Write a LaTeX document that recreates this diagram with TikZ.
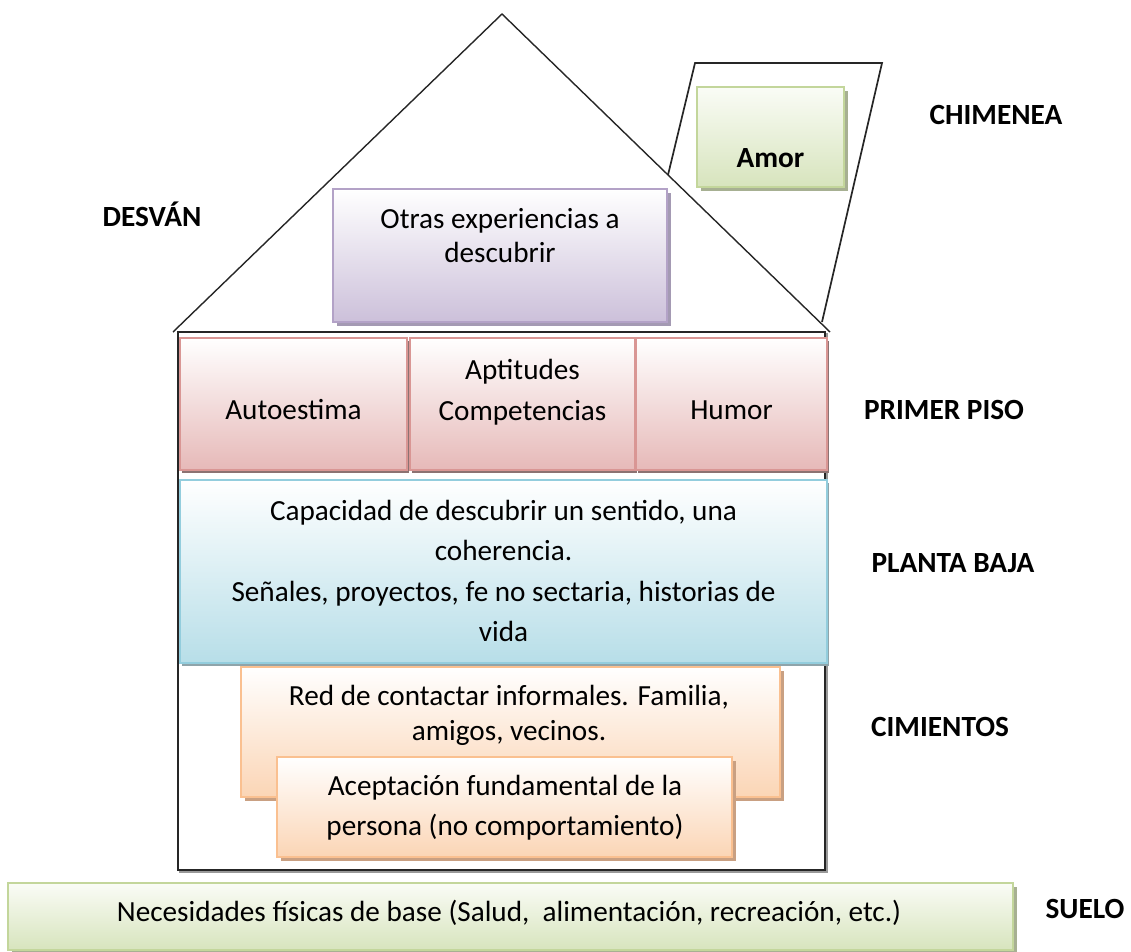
\documentclass[tikz,border=0pt]{standalone}
\usepackage{fontspec}
\setmainfont{Carlito}
\usetikzlibrary{shadows}
\definecolor{purB}{HTML}{B3A2C7}
\definecolor{purF}{HTML}{CCC0DA}
\definecolor{purS}{HTML}{A49AB3}
\definecolor{pinkB}{HTML}{D99694}
\definecolor{pinkF}{HTML}{E6B9B8}
\definecolor{pinkS}{HTML}{8C7272}
\definecolor{bluB}{HTML}{93CDDD}
\definecolor{bluF}{HTML}{B7DEE8}
\definecolor{bluS}{HTML}{8FA4AA}
\definecolor{oraB}{HTML}{FAC090}
\definecolor{oraF}{HTML}{FBD5B5}
\definecolor{oraS}{HTML}{C9A082}
\definecolor{grnB}{HTML}{C3D69B}
\definecolor{grnF}{HTML}{D7E4BD}
\definecolor{grnT}{HTML}{FAFCF6}
\definecolor{grnS}{HTML}{A7B092}
\newcommand{\stk}[2]{{\fontsize{29.2}{#1}\selectfont\begin{tabular}[t]{@{}c@{}}#2\end{tabular}}}
\begin{document}
\begin{tikzpicture}[x=1pt,y=-1pt,
  every node/.style={inner sep=0pt, outer sep=0pt},
  txt/.style={anchor=base, font=\fontsize{29.2}{34}\selectfont},
  lbl/.style={anchor=base, font=\fontsize{29.3}{34}\selectfont\bfseries},
  boxbase/.style={draw, rectangle, line width=2.2pt},
  purplebox/.style={boxbase, draw=purB, top color=white, bottom color=purF,
    drop shadow={shadow xshift=3.5pt, shadow yshift=-3.5pt, fill=purS, opacity=1}},
  pinkbox/.style={boxbase, draw=pinkB, top color=white, bottom color=pinkF,
    drop shadow={shadow xshift=2pt, shadow yshift=-3pt, fill=pinkS, opacity=1}},
  bluebox/.style={boxbase, draw=bluB, top color=white, bottom color=bluF,
    drop shadow={shadow xshift=2pt, shadow yshift=-3pt, fill=bluS, opacity=1}},
  orangebox/.style={boxbase, draw=oraB, top color=white, bottom color=oraF,
    drop shadow={shadow xshift=3.5pt, shadow yshift=-3.5pt, fill=oraS, opacity=1}},
  greenbox/.style={boxbase, draw=grnB, top color=grnT, bottom color=grnF,
    drop shadow={shadow xshift=3.5pt, shadow yshift=-3.5pt, fill=grnS, opacity=1}},
  blackline/.style={line width=1.6pt, draw=black!85}
]
\useasboundingbox (0,0) rectangle (1131,951);
% house outline
\coordinate (hTL) at (178,332);
\coordinate (hBR) at (825,870);
\coordinate (hTLs) at (180,334);
\coordinate (hBRs) at (827,872);
\draw[line width=1.5pt, black!40] (hTLs) rectangle (hBRs);
\draw[blackline, line width=1.8pt, fill=white] (hTL) rectangle (hBR);
% roof
\coordinate (roofL) at (173,332);
\coordinate (apex) at (502,14);
\coordinate (roofR) at (830,332);
\draw[blackline, line width=1.4pt] (roofL) -- (apex) -- (roofR);
% chimney
\coordinate (chA) at (668,175);
\coordinate (chB) at (695,63);
\coordinate (chC) at (882,63);
\coordinate (chD) at (822,322);
\draw[blackline, line width=1.7pt] (chA) -- (chB) -- (chC) -- (chD);

% boxes
\node[greenbox, minimum width=147pt, minimum height=100pt] (amor) at (770.5,137) {};
\node[lbl] (tamor) at (770.5,167) {Amor};

\node[purplebox, minimum width=334pt, minimum height=133pt] (otras) at (500,255.5) {};
\node[txt] (totras) at (500,228) {\stk{34}{Otras experiencias a\\descubrir}};

\node[pinkbox, minimum width=227pt, minimum height=132pt] (auto) at (293.5,404) {};
\node[pinkbox, minimum width=225pt, minimum height=132pt] (apti) at (522.5,404) {};
\node[pinkbox, minimum width=191pt, minimum height=132pt] (humor) at (731.5,404) {};
\node[txt] (tauto) at (293.5,419) {Autoestima};
\node[txt] (tapti) at (522.5,379) {\stk{41}{Aptitudes\\Competencias}};
\node[txt] (thumor) at (731.5,419) {Humor};

\node[bluebox, minimum width=647pt, minimum height=183pt] (baja) at (503.5,571.5) {};
\node[txt] (tbaja) at (503.5,520) {\stk{40.5}{Capacidad de descubrir un sentido, una\\coherencia.\\Señales, proyectos, fe no sectaria, historias de\\vida}};

\node[orangebox, minimum width=539pt, minimum height=130pt] (red) at (510.5,732) {};
\node[txt] (tred) at (509,705) {\stk{35}{Red de contactar informales. Familia,\\amigos, vecinos.}};
\node[orangebox, minimum width=455pt, minimum height=100pt] (acep) at (504.5,807) {};
\node[txt] (tacep) at (505,795) {\stk{40}{Aceptación fundamental de la\\persona (no comportamiento)}};

\node[greenbox, minimum width=1005pt, minimum height=67pt] (suelo) at (510.5,916.5) {};
\node[txt] (tsuelo) at (509,921) {Necesidades físicas de base (Salud,\ \ alimentación, recreación, etc.)};

% side labels
\node[lbl] (ldesvan) at (152,226) {DESVÁN};
\node[lbl] (lchim) at (996,124) {CHIMENEA};
\node[lbl] (lprimer) at (944,419) {PRIMER PISO};
\node[lbl] (lplanta) at (953,572) {PLANTA BAJA};
\node[lbl] (lcim) at (940,736) {CIMIENTOS};
\node[lbl] (lsuelo) at (1085,918) {SUELO};
\end{tikzpicture}
\end{document}
